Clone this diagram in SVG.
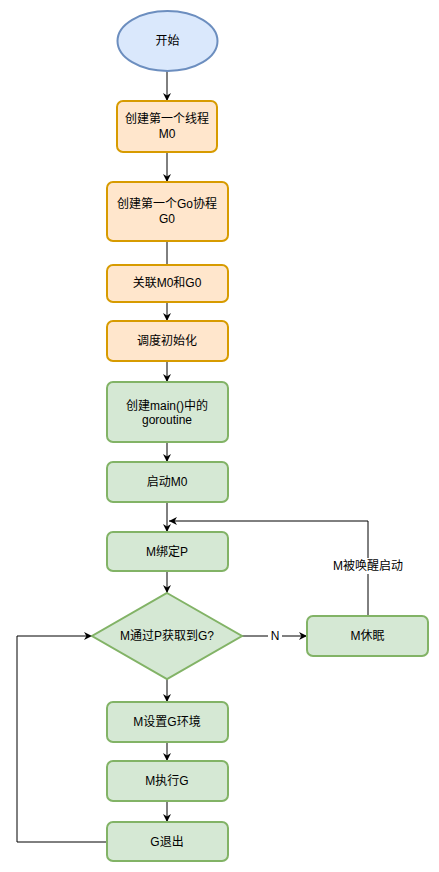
<svg xmlns="http://www.w3.org/2000/svg" width="439" height="872" viewBox="0 0 439 872">
<style>
text{font-family:"Liberation Sans","Noto Sans CJK SC",sans-serif;font-size:12px;fill:#000;text-anchor:middle;dominant-baseline:central}
.o{fill:#ffe6cc;stroke:#d79b00;stroke-width:2}
.g{fill:#d5e8d4;stroke:#82b366;stroke-width:2}
.b{fill:#dae8fc;stroke:#6c8ebf;stroke-width:2}
.c{fill:none;stroke:#000;stroke-width:1}
</style>
<defs>
<marker id="ar" viewBox="0 0 10 10" refX="10" refY="5" markerWidth="8" markerHeight="8" markerUnits="userSpaceOnUse" orient="auto">
<path d="M0,0 L10,5 L0,10 L3,5 Z" fill="#000"/>
</marker>
</defs>
<rect width="439" height="872" fill="#fff"/>
<g id="connectors">
<path class="c" d="M167,71 V101" marker-end="url(#ar)"/>
<path class="c" d="M167,152 V182" marker-end="url(#ar)"/>
<path class="c" d="M167,241 V265"/>
<path class="c" d="M167,302 V321" marker-end="url(#ar)"/>
<path class="c" d="M167,361 V382" marker-end="url(#ar)"/>
<path class="c" d="M167,442 V462" marker-end="url(#ar)"/>
<path class="c" d="M167,502 V532" marker-end="url(#ar)"/>
<path class="c" d="M167,571 V593" marker-end="url(#ar)"/>
<path class="c" d="M167,679 V702" marker-end="url(#ar)"/>
<path class="c" d="M167,742 V761" marker-end="url(#ar)"/>
<path class="c" d="M167,801 V822" marker-end="url(#ar)"/>
<path class="c" d="M242,636 H307" marker-end="url(#ar)"/>
<path class="c" d="M368,616 V521 H169" marker-end="url(#ar)"/>
<path class="c" d="M107,842 H17 V636 H92" marker-end="url(#ar)"/>
<rect x="268" y="629" width="14" height="14" fill="#fff"/>
<text x="275" y="636" font-size="11">N</text>
<rect x="330" y="558" width="76" height="16" fill="#fff"/>
<text x="368" y="566">M被唤醒启动</text>
</g>
<g id="start"><ellipse class="b" cx="167.5" cy="41" rx="50" ry="30"/><text x="167.5" y="41">开始</text></g>
<g id="createM0"><rect class="o" x="117" y="101" width="100" height="51" rx="6"/><text x="167" y="119">创建第一个线程</text><text x="167" y="134">M0</text></g>
<g id="createG0"><rect class="o" x="107" y="182" width="121" height="59" rx="6"/><text x="167" y="204">创建第一个Go协程</text><text x="167" y="219">G0</text></g>
<g id="link"><rect class="o" x="107" y="265" width="121" height="37" rx="6"/><text x="167" y="283">关联M0和G0</text></g>
<g id="schedinit"><rect class="o" x="107" y="321" width="121" height="40" rx="6"/><text x="167" y="341">调度初始化</text></g>
<g id="mainG"><rect class="g" x="107" y="382" width="121" height="60" rx="6"/><text x="167" y="406">创建main()中的</text><text x="167" y="420">goroutine</text></g>
<g id="startM0"><rect class="g" x="107" y="462" width="121" height="40" rx="6"/><text x="167" y="482">启动M0</text></g>
<g id="bindP"><rect class="g" x="107" y="532" width="121" height="39" rx="6"/><text x="167" y="552">M绑定P</text></g>
<g id="decide"><path class="g" d="M167,593 L242,636 L167,679 L92,636 Z"/><text x="167" y="636">M通过P获取到G?</text></g>
<g id="sleep"><rect class="g" x="307" y="616" width="121" height="40" rx="6"/><text x="367.5" y="636">M休眠</text></g>
<g id="setG"><rect class="g" x="107" y="702" width="121" height="40" rx="6"/><text x="167" y="722">M设置G环境</text></g>
<g id="execG"><rect class="g" x="107" y="761" width="121" height="40" rx="6"/><text x="167" y="781">M执行G</text></g>
<g id="exitG"><rect class="g" x="107" y="822" width="121" height="39" rx="6"/><text x="167" y="842">G退出</text></g>
</svg>
